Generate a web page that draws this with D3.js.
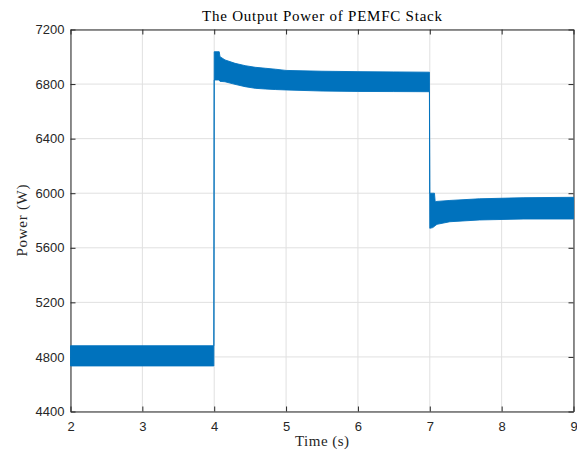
<!DOCTYPE html>
<html>
<head>
<meta charset="utf-8">
<script src="https://cdn.jsdelivr.net/npm/d3@7"></script>
<style>
  html, body { margin: 0; padding: 0; background: #ffffff; }
  svg { display: block; }
</style>
</head>
<body>
<script>
// Stack output power: envelope of the ripple band (upper / lower bounds) over time
const timeS = [2.0, 3.995, 4.0, 4.07, 4.08, 4.15, 4.29, 4.43, 4.57, 4.71, 4.85, 5.0, 5.5, 6.0, 6.5, 6.995,
               7.0, 7.04, 7.065, 7.075, 7.1, 7.28, 7.69, 8.31, 9.0];
const powerUpper = [4882, 4882, 7037, 7037, 7001, 6977, 6952, 6935, 6923, 6916, 6909, 6900, 6894, 6891, 6889, 6887,
                    6000, 6000, 6000, 5938, 5940, 5947, 5959, 5967, 5970];
const powerLower = [4734, 4734, 6830, 6830, 6820, 6817, 6798, 6781, 6769, 6764, 6760, 6757, 6749, 6746, 6745, 6744,
                    5743, 5748, 5757, 5762, 5772, 5791, 5804, 5811, 5811];

const xTicks = [2, 3, 4, 5, 6, 7, 8, 9];
const yTicks = [4400, 4800, 5200, 5600, 6000, 6400, 6800, 7200];

const titleText = "The Output Power of PEMFC Stack";
const xLabelText = "Time (s)";
const yLabelText = "Power (W)";

(function drawChart() {
  const W = 577, H = 450;
  const mLeft = 70.5, mRight = 573.5, mTop = 29.5, mBottom = 411.5;
  const axisColor = "#262626";
  const gridColor = "#e0e0e0";
  const lineColor = "#0072BD";
  const serif = "'Liberation Serif', 'DejaVu Serif', serif";
  const sans = "'Liberation Sans', Arial, sans-serif";
  const fmt = d3.format("d");

  const svg = d3.select("body").append("svg")
    .attr("width", W).attr("height", H);

  svg.append("rect").attr("width", W).attr("height", H).attr("fill", "#fff");

  const x = d3.scaleLinear().domain([2, 9]).range([mLeft, mRight]);
  const y = d3.scaleLinear().domain([4400, 7200]).range([mBottom, mTop]);

  // grid
  const grid = svg.append("g");
  grid.selectAll("line.gx").data(xTicks).join("line").attr("class", "gx")
    .attr("x1", d => x(d)).attr("x2", d => x(d))
    .attr("y1", mTop).attr("y2", mBottom)
    .attr("stroke", gridColor).attr("stroke-width", 1);
  grid.selectAll("line.gy").data(yTicks).join("line").attr("class", "gy")
    .attr("x1", mLeft).attr("x2", mRight)
    .attr("y1", d => y(d)).attr("y2", d => y(d))
    .attr("stroke", gridColor).attr("stroke-width", 1);

  // axes: closed box, ticks on all four sides pointing inward
  const tickLen = 5;
  const axB = d3.axisBottom(x).tickValues(xTicks).tickFormat(fmt)
    .tickSizeInner(-tickLen).tickSizeOuter(0).tickPadding(10);
  const axT = d3.axisTop(x).tickValues(xTicks).tickFormat("")
    .tickSizeInner(-tickLen).tickSizeOuter(0);
  const axL = d3.axisLeft(y).tickValues(yTicks).tickFormat(fmt)
    .tickSizeInner(-tickLen).tickSizeOuter(0).tickPadding(6);
  const axR = d3.axisRight(y).tickValues(yTicks).tickFormat("")
    .tickSizeInner(-tickLen).tickSizeOuter(0);

  function style(g) {
    g.select(".domain").attr("stroke", axisColor).attr("stroke-width", 1);
    g.selectAll(".tick line").attr("stroke", axisColor).attr("stroke-width", 1);
    g.selectAll(".tick text").attr("fill", axisColor)
      .style("font-family", sans).style("font-size", "13px");
  }

  svg.append("g").attr("transform", `translate(0,${mBottom})`).call(axB).call(style);
  svg.append("g").attr("transform", `translate(0,${mTop})`).call(axT).call(style);
  svg.append("g").attr("transform", `translate(${mLeft},0)`).call(axL).call(style);
  svg.append("g").attr("transform", `translate(${mRight},0)`).call(axR).call(style);

  // ripple band
  const band = timeS.map((t, i) => ({ t, hi: powerUpper[i], lo: powerLower[i] }));
  svg.append("clipPath").attr("id", "plotClip")
    .append("rect").attr("x", mLeft - 1).attr("y", mTop)
    .attr("width", mRight - mLeft + 1.5).attr("height", mBottom - mTop);

  const area = d3.area()
    .x(d => x(d.t))
    .y0(d => y(d.lo))
    .y1(d => y(d.hi));

  svg.append("path")
    .datum(band)
    .attr("clip-path", "url(#plotClip)")
    .attr("d", area)
    .attr("fill", lineColor)
    .attr("stroke", lineColor)
    .attr("stroke-width", 0.9)
    .attr("stroke-linejoin", "round");

  // title and axis labels
  svg.append("text")
    .attr("x", (mLeft + mRight) / 2).attr("y", 21)
    .attr("text-anchor", "middle")
    .attr("textLength", 240).attr("lengthAdjust", "spacing")
    .style("font-family", serif).style("font-size", "15px")
    .attr("fill", "#000")
    .text(titleText);

  svg.append("text")
    .attr("x", (mLeft + mRight) / 2).attr("y", 446)
    .attr("text-anchor", "middle")
    .attr("textLength", 54).attr("lengthAdjust", "spacing")
    .style("font-family", serif).style("font-size", "15px")
    .attr("fill", axisColor)
    .text(xLabelText);

  svg.append("text")
    .attr("transform", `translate(26.5,${(mTop + mBottom) / 2}) rotate(-90)`)
    .attr("text-anchor", "middle")
    .attr("textLength", 72).attr("lengthAdjust", "spacing")
    .style("font-family", serif).style("font-size", "15px")
    .attr("fill", axisColor)
    .text(yLabelText);
})();
</script>
</body>
</html>
